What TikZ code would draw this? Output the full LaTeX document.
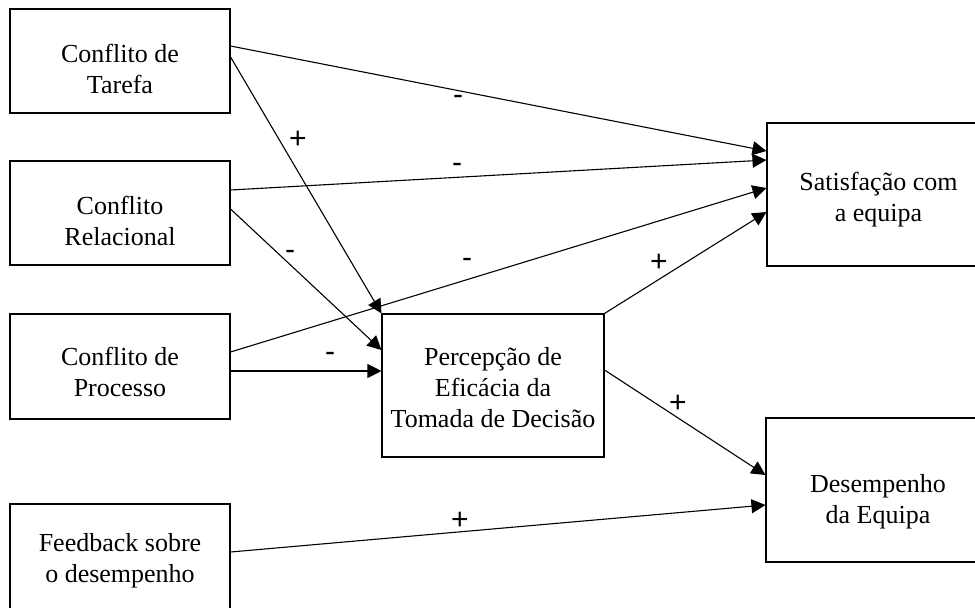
\documentclass[tikz,border=0pt]{standalone}
\usepackage{fontspec}
\setmainfont{Liberation Serif}
\newfontfamily\signfont{Liberation Sans}
\usetikzlibrary{arrows.meta}

\begin{document}
\begin{tikzpicture}[
    x=1pt, y=-1pt,
    construct/.style={
        rectangle, draw=black, line width=1.1pt,
        text centered, align=center,
        font=\fontsize{26}{31}\selectfont
    },
    arrow/.style={-{Triangle[length=14pt, width=14pt]}, line width=1.1pt},
    sign/.style={font=\signfont\fontsize{30}{30}\selectfont, inner sep=0pt},
]
\clip (0,0) rectangle (975,608);

% Antecedentes
\node[construct, minimum width=220pt, minimum height=104pt, text height=66pt]
    (tarefa) at (120,61) {Conflito de\\Tarefa};
\node[construct, minimum width=220pt, minimum height=104pt, text height=65pt]
    (relacional) at (120,213) {Conflito\\Relacional};
\node[construct, minimum width=220pt, minimum height=105pt, text height=60pt]
    (processo) at (120,366.5) {Conflito de\\Processo};
\node[construct, minimum width=220pt, minimum height=108pt, text height=54pt]
    (feedback) at (120,558) {Feedback sobre\\o desempenho};

% Mediador
\node[construct, minimum width=222pt, minimum height=143pt, text height=84pt]
    (percepcao) at (493,385.5) {Percepção de\\Eficácia da\\Tomada de Decisão};

% Resultados
\node[construct, minimum width=223pt, minimum height=143pt, text height=59pt]
    (satisfacao) at (878.5,194.5) {Satisfação com\\a equipa};
\node[construct, minimum width=224pt, minimum height=144pt, text height=72pt]
    (desempenho) at (878,490) {Desempenho\\da Equipa};

%% Ligações
\draw[arrow] ([yshift=15pt]tarefa.east) -- ([yshift=43.5pt]satisfacao.west);
\draw[arrow] ([yshift=4pt]tarefa.east) -- (percepcao.north west);
\draw[arrow] ([yshift=23pt]relacional.east) -- ([yshift=34.5pt]satisfacao.west);
\draw[arrow] ([yshift=4pt]relacional.east) -- ([yshift=35.5pt]percepcao.west);
\draw[arrow] ([yshift=14.5pt]processo.east) -- ([yshift=6.5pt]satisfacao.west);
\draw[arrow] ([yshift=-4.5pt]processo.east) -- ([yshift=14.5pt]percepcao.west);
\draw[arrow] (percepcao.north east) -- ([yshift=-17.5pt]satisfacao.west);
\draw[arrow] ([yshift=15.5pt]percepcao.east) -- ([yshift=15pt]desempenho.west);
\draw[arrow] ([yshift=6pt]feedback.east) -- ([yshift=-15pt]desempenho.west);

%% Sinais
\node[sign] (s1) at (458,100) {-};
\node[sign] (s2) at (298,140) {+};
\node[sign] (s3) at (457,168) {-};
\node[sign] (s4) at (290,255) {-};
\node[sign] (s5) at (467,263) {-};
\node[sign] (s6) at (330,357) {-};
\node[sign] (s7) at (659,263) {+};
\node[sign] (s8) at (678,404) {+};
\node[sign] (s9) at (460,521) {+};

\end{tikzpicture}
\end{document}
